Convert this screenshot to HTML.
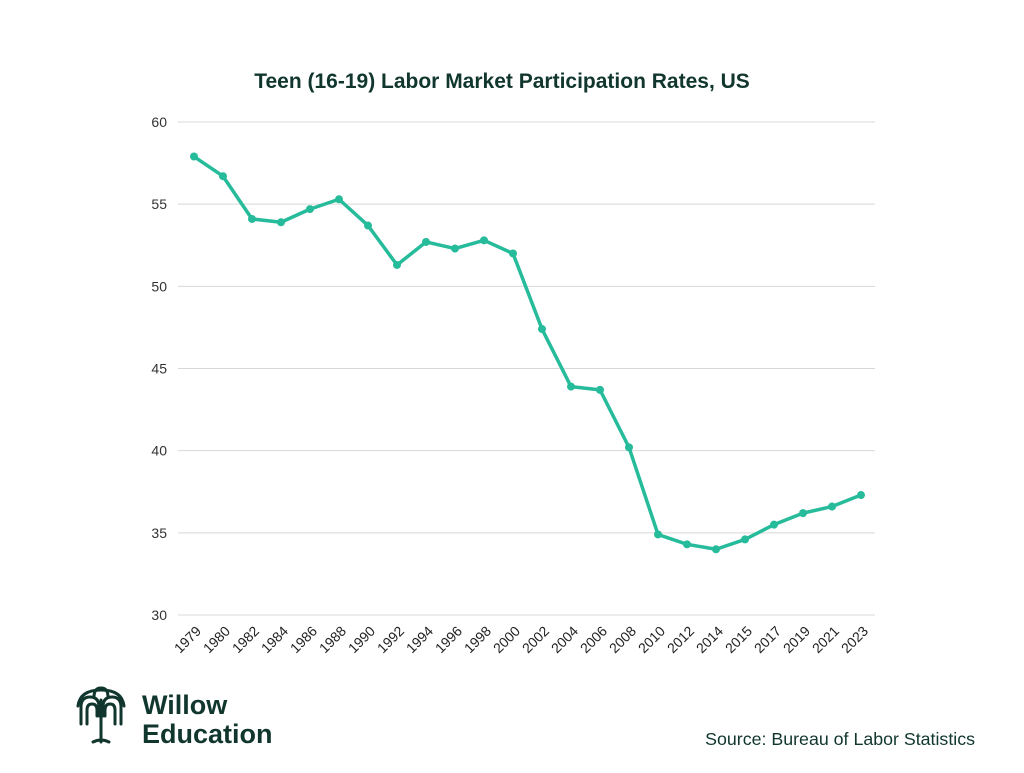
<!DOCTYPE html>
<html><head><meta charset="utf-8"><style>
body{margin:0;background:#fff;font-family:"Liberation Sans",sans-serif;}
#wrap{position:relative;width:1024px;height:768px;}
</style></head><body>
<div id="wrap">
<svg id="chart" width="1024" height="768">
<text x="502" y="88" text-anchor="middle" font-size="21" font-weight="bold" fill="#10362d">Teen (16-19) Labor Market Participation Rates, US</text>
<g id="grid"></g><g id="xl"></g>
<path id="line" fill="none" stroke="#26bb9a" stroke-width="3.5" stroke-linejoin="round"></path>
<g id="pts"></g>
<g fill="none" stroke="#10362d" stroke-width="3" stroke-linecap="round">
<path d="M81 724 V707 Q81 697 90 697 Q99 697 99 707 V716"/>
<path d="M121 724 V707 Q121 697 112 697 Q103 697 103 707 V716"/>
<path d="M87 724 V710 Q87 704 92 704 Q97 704 97 710 V716"/>
<path d="M115 724 V710 Q115 704 110 704 Q105 704 105 710 V716"/>
<path d="M78 706 Q80 690 101 690 Q122 690 124 706"/>
<path d="M94 697 Q94 688 101 688 Q108 688 108 697"/>
<path d="M101 700 V742 M93 742 Q101 738 109 742"/>
</g>
<text x="142" y="714" font-size="27" font-weight="600" fill="#10362d">Willow</text>
<text x="142" y="743" font-size="27" font-weight="600" fill="#10362d">Education</text>
<text x="975" y="745" text-anchor="end" font-size="17.8" fill="#10362d">Source: Bureau of Labor Statistics</text>
</svg>
</div>
<script>
const years=["1979","1980","1982","1984","1986","1988","1990","1992","1994","1996","1998","2000","2002","2004","2006","2008","2010","2012","2014","2015","2017","2019","2021","2023"];
const rates=[57.9,56.7,54.1,53.9,54.7,55.3,53.7,51.3,52.7,52.3,52.8,52.0,47.4,43.9,43.7,40.2,34.9,34.3,34.0,34.6,35.5,36.2,36.6,37.3];
const yTicks=[30,35,40,45,50,55,60];
const NS="http://www.w3.org/2000/svg";
const y=v=>615-(v-30)*(615-122)/30;
const x=i=>194+i*(861-194)/(years.length-1);
function mk(t,a,p){const e=document.createElementNS(NS,t);for(const k in a)e.setAttribute(k,a[k]);p.appendChild(e);return e;}
const grid=document.getElementById('grid');
yTicks.forEach(v=>{
 const l=mk('line',{x1:178,x2:875,y1:y(v),y2:y(v),stroke:'#d8d8d8','stroke-width':1},grid);
 
 
 const t=mk('text',{x:167,y:y(v)+5,'text-anchor':'end','font-size':14,fill:'#333'},grid);
 t.textContent=v;
 
 
});
const xl=document.getElementById('xl');
years.forEach((yr,i)=>{
 const t=mk('text',{transform:`translate(${x(i)+8},${632}) rotate(-45)`,'text-anchor':'end','font-size':14,fill:'#222'},xl);
 t.textContent=yr;
 
 
});
document.getElementById('line').setAttribute('d',rates.map((v,i)=>(i?'L':'M')+x(i)+' '+y(v)).join(' '));
const pts=document.getElementById('pts');
rates.forEach((v,i)=>{
 const c=mk('circle',{cx:x(i),cy:y(v),r:4,fill:'#26bb9a'},pts);
 
 
});
</script>
</body></html>
